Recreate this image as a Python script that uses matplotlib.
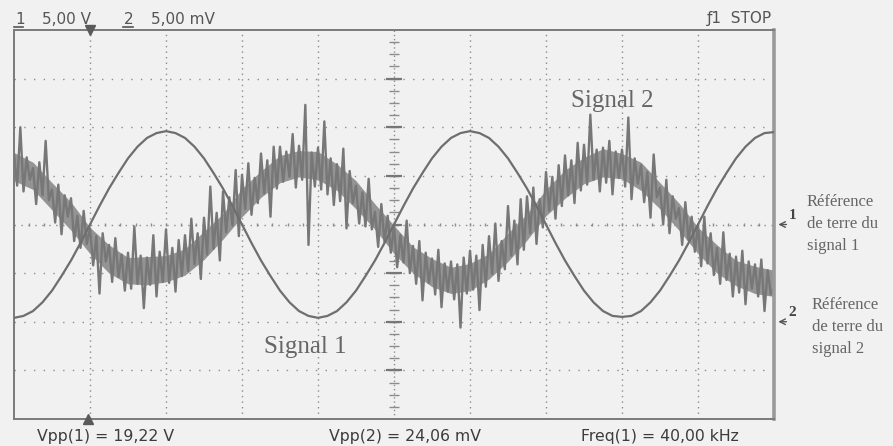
"""Oscilloscope capture: clean 40 kHz sine (voie 1) and noisy signal (voie 2)."""

import matplotlib
matplotlib.use("Agg")
import matplotlib.pyplot as plt
import numpy as np

# ---- data read off the screen capture ----
# screen is 10 div wide, 8 div high
V_PER_DIV = 5.0      # voie 1
MV_PER_DIV = 5.0     # voie 2
GND1_DIV = 0.0       # ground marker 1 (screen centre)
GND2_DIV = -2.0      # ground marker 2

# voie 1, volts, one sample every 1/8 div
sig1_v = [
    -9.6, -9.4, -8.9, -8.0, -6.8, -5.3, -3.7, -1.9, 0.0,
    1.9, 3.7, 5.3, 6.8, 8.0, 8.9, 9.4, 9.6,
    9.4, 8.9, 8.0, 6.8, 5.3, 3.7, 1.9, 0.0,
    -1.9, -3.7, -5.3, -6.8, -8.0, -8.9, -9.4, -9.6,
    -9.4, -8.9, -8.0, -6.8, -5.3, -3.7, -1.9, 0.0,
    1.9, 3.7, 5.3, 6.8, 8.0, 8.9, 9.4, 9.6,
    9.4, 8.9, 8.0, 6.8, 5.3, 3.7, 1.9, 0.0,
    -1.9, -3.7, -5.3, -6.8, -8.0, -8.9, -9.4, -9.5,
    -9.4, -8.9, -8.0, -6.8, -5.3, -3.7, -1.9, 0.0,
    1.9, 3.7, 5.3, 6.8, 8.0, 8.9, 9.4, 9.5,
]

# voie 2, mV, one sample every 1/24 div
sig2_mv = [
    17.2, 14.0, 20.0, 13.4, 16.9, 14.6, 15.8, 12.1, 16.4, 13.0, 18.6, 12.5,
    13.6, 10.2, 14.1, 9.0, 13.0, 10.8, 12.7, 8.3, 10.9, 7.6, 11.4, 8.0,
    9.6, 5.8, 8.8, 2.9, 9.1, 6.2, 7.9, 4.1, 8.6, 4.6, 6.9, 3.2,
    7.1, 3.4, 9.8, 3.9, 6.8, 1.4, 6.6, 3.8, 8.9, 2.6, 7.2, 4.1,
    9.5, 4.0, 7.6, 3.1, 8.4, 4.7, 8.9, 5.2, 10.6, 5.9, 9.1, 4.4,
    10.7, 6.9, 13.9, 7.5, 11.2, 6.3, 13.4, 9.2, 12.8, 9.9, 15.6, 8.8,
    15.1, 11.6, 16.3, 11.0, 14.8, 12.2, 17.3, 13.2, 16.6, 10.8, 18.0, 13.7,
    18.0, 14.4, 17.5, 14.9, 19.3, 13.8, 18.1, 14.6, 22.3, 7.9, 17.4, 13.9,
    17.9, 13.6, 20.6, 13.1, 16.8, 12.0, 16.2, 12.4, 17.8, 9.6, 15.5, 12.2,
    14.0, 10.1, 13.3, 9.8, 14.7, 9.5, 11.3, 7.7, 12.1, 8.2, 10.9, 7.1,
    9.8, 5.6, 8.9, 6.1, 10.4, 5.0, 7.8, 3.9, 8.3, 2.2, 7.1, 4.0,
    6.5, 2.8, 7.4, 1.5, 6.0, 3.1, 6.2, 2.3, 5.9, -0.6, 6.6, 2.9,
    7.3, 3.3, 6.8, 1.2, 7.9, 3.6, 8.8, 4.9, 10.1, 4.2, 8.3, 5.4,
    11.9, 6.8, 10.4, 5.9, 12.6, 7.4, 12.9, 9.1, 13.8, 8.0, 12.6, 9.7,
    15.4, 11.4, 14.9, 10.6, 16.1, 11.9, 17.1, 13.0, 16.6, 12.2, 18.4, 13.5,
    18.2, 14.1, 21.3, 14.6, 17.7, 13.4, 17.9, 14.3, 18.6, 13.1, 17.5, 14.8,
    17.7, 13.9, 21.0, 12.6, 16.8, 14.2, 16.1, 12.3, 15.4, 10.7, 17.2, 12.8,
    13.8, 10.0, 14.6, 9.1, 12.9, 10.6, 11.7, 7.9, 12.3, 8.4, 10.8, 7.2,
    9.9, 5.7, 10.8, 6.0, 9.1, 4.8, 7.6, 3.9, 9.2, 4.3, 7.0, 2.6,
    6.7, 3.0, 7.3, 1.8, 6.2, 3.4, 5.9, 2.6, 6.4, 1.1, 5.3, 2.8,
    3.5,
]

# dense core of the voie 2 trace, mV, every 1/4 div
sig2_core_hi = [
    17.4, 16.4, 14.3, 12.3, 9.7, 7.9, 6.6, 6.7, 6.8, 7.5, 9.3, 11.1, 13.7,
    15.5, 17.1, 17.6, 17.5, 16.2, 14.5, 12.1, 9.9, 7.7, 6.5, 5.6, 6.0, 7.0,
    9.1, 11.1, 13.6, 15.6, 16.9, 17.8, 17.3, 16.4, 14.3, 12.2, 9.7, 7.9, 6.3,
    5.7, 5.3,
]
sig2_core_lo = [
    14.5, 13.6, 11.5, 9.4, 7.0, 5.0, 3.9, 3.8, 4.1, 4.8, 6.4, 8.5, 10.8,
    12.8, 14.3, 14.9, 14.6, 13.5, 11.6, 9.5, 7.0, 5.0, 3.6, 2.9, 3.2, 4.4,
    6.2, 8.4, 10.9, 12.7, 14.2, 14.9, 14.7, 13.5, 11.6, 9.4, 7.0, 5.0, 3.7,
    2.9, 2.6,
]

header_left = ["5,00 V", "5,00 mV"]
channels = ["1", "2"]
measures = ["Vpp(1) = 19,22 V", "Vpp(2) = 24,06 mV", "Freq(1) = 40,00 kHz"]
ref_lines_1 = ["Référence", "de terre du", "signal 1"]
ref_lines_2 = ["Référence", "de terre du", "signal 2"]

BG = "#f1f1f1"
GRID = "#8c8c8c"
TRACE = "#6e6e6e"
SCOPE_FONT = ["Liberation Sans Narrow", "DejaVu Sans"]
SERIF = ["Liberation Serif", "DejaVu Serif"]

fig = plt.figure(figsize=(8.93, 4.46), dpi=100, facecolor=BG)
W, H = 893.0, 446.0
ax = fig.add_axes([14 / W, 27 / H, 760 / W, 389 / H])
ax.set_facecolor(BG)
ax.set_xlim(0, 10)
ax.set_ylim(-4, 4)
ax.set_xticks([])
ax.set_yticks([])
for name, sp in ax.spines.items():
    sp.set_color("#7a7a7a")
    sp.set_linewidth(1.4)
ax.spines["right"].set_linewidth(2.6)
ax.spines["right"].set_color("#9a9a9a")

# graticule
for gx in range(1, 10):
    if gx != 5:
        ax.axvline(gx, color=GRID, lw=1.0, ls=(0, (1, 3)), zorder=1)
for gy in range(-3, 4):
    if gy != 0:
        ax.axhline(gy, color=GRID, lw=1.0, ls=(0, (1, 6)), zorder=1)
ax.axhline(0, color=GRID, lw=1.0, ls=(0, (1, 4)), zorder=1)
ax.axvline(5, color=GRID, lw=1.0, ls=(0, (1, 2)), zorder=1)
# centre-axis subdivisions
hx = np.arange(0.2, 10, 0.2)
ax.vlines(hx, -0.04, 0.04, color=GRID, lw=1.0, zorder=1)
vy = np.arange(-3.75, 4, 0.25)
ax.hlines(vy, 4.94, 5.06, color=GRID, lw=1.0, zorder=1)
ax.hlines(np.arange(-3, 4), 4.89, 5.11, color="#777777", lw=1.6, zorder=1)

# traces
x1 = np.linspace(0, 10, len(sig1_v))
y1 = GND1_DIV + np.array(sig1_v) / V_PER_DIV
ax.plot(x1, y1, color=TRACE, lw=1.6, zorder=3)

xc = np.linspace(0, 10, len(sig2_core_hi))
ax.fill_between(xc, GND2_DIV + np.array(sig2_core_lo) / MV_PER_DIV,
                GND2_DIV + np.array(sig2_core_hi) / MV_PER_DIV,
                color="#949494", lw=0, zorder=2)
x2 = np.linspace(0, 10, len(sig2_mv))
y2 = GND2_DIV + np.array(sig2_mv) / MV_PER_DIV
ax.plot(x2, y2, color="#777777", lw=1.7, zorder=2)

# trigger markers
ax.plot(1, 4, marker="v", ms=7, color="#5a5a5a", clip_on=False, zorder=5)
ax.plot(0.97, -4, marker="^", ms=7, color="#5a5a5a", clip_on=False, zorder=5)

# ground reference arrows
for g, lab in [(GND1_DIV, "1"), (GND2_DIV, "2")]:
    ax.annotate("", xy=(10.02, g), xytext=(10.2, g),
                arrowprops=dict(arrowstyle="->", color="#555555", lw=1.0),
                annotation_clip=False)
    ax.text(10.19, g + 0.06, lab, fontsize=11, fontweight="bold", family=SERIF,
            color="#444444", ha="left", va="bottom", clip_on=False)

# signal labels
ax.text(3.83, -2.52, "Signal 1", fontsize=18, family=SERIF, color="#666666",
        ha="center", va="center")
ax.text(7.87, 2.53, "Signal 2", fontsize=18, family=SERIF, color="#666666",
        ha="center", va="center")

# header readout
fig.text(15 / W, 1 - 19 / H, channels[0], fontsize=11, family=SCOPE_FONT,
         color="#555555", va="center")
fig.text(42 / W, 1 - 19 / H, header_left[0], fontsize=11, family=SCOPE_FONT,
         color="#555555", va="center")
fig.text(124 / W, 1 - 19 / H, channels[1], fontsize=11, family=SCOPE_FONT,
         color="#555555", va="center")
fig.text(151 / W, 1 - 19 / H, header_left[1], fontsize=11, family=SCOPE_FONT,
         color="#555555", va="center")
for x0, x1_ in [(14, 23), (123, 133)]:
    fig.add_artist(plt.Line2D([x0 / W, x1_ / W], [1 - 27 / H] * 2,
                              color="#555555", lw=1.2))
fig.text(772 / W, 1 - 19 / H, "ƒ1  STOP", fontsize=11, family=SCOPE_FONT,
         color="#555555", va="center", ha="right")

# measurements
for xp, s in zip([37, 329, 581], measures):
    fig.text(xp / W, 1 - 437 / H, s, fontsize=11.3, family=SCOPE_FONT,
             color="#3c3c3c", va="center")

# right-hand notes
for i, s in enumerate(ref_lines_1):
    fig.text(807 / W, 1 - (202 + 22 * i) / H, s, fontsize=12, family=SERIF,
             color="#666666", va="center")
for i, s in enumerate(ref_lines_2):
    fig.text(812 / W, 1 - (305 + 22 * i) / H, s, fontsize=12, family=SERIF,
             color="#666666", va="center")

fig.savefig("out.png", dpi=100, facecolor=BG)
